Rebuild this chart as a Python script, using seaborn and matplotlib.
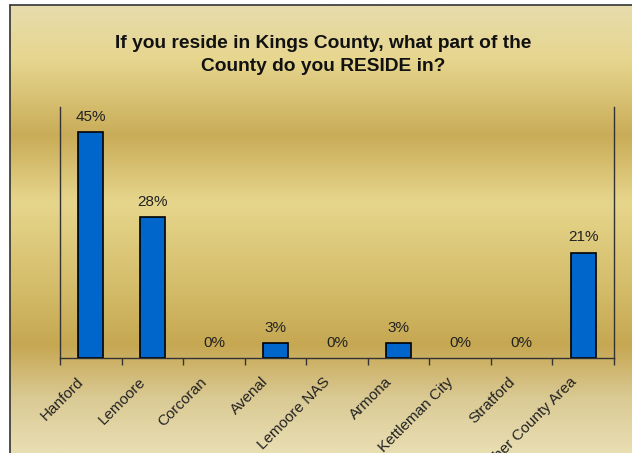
import numpy as np
import pandas as pd
import matplotlib.pyplot as plt
import matplotlib.colors as mcolors
import matplotlib.transforms as mtransforms
import seaborn as sns

# dados
categorias = ['Hanford', 'Lemoore', 'Corcoran', 'Avenal', 'Lemoore NAS',
              'Armona', 'Kettleman City', 'Stratford', 'Other County Area']
percentuais = [45, 28, 0, 3, 0, 3, 0, 0, 21]
titulo = 'If you reside in Kings County, what part of the\nCounty do you RESIDE in?'

df = pd.DataFrame({'area': categorias, 'pct': percentuais})

sns.set_theme(style='white')
plt.rcParams['font.family'] = ['Liberation Sans', 'DejaVu Sans']

fig = plt.figure(figsize=(6.32, 4.53), dpi=100)

# fundo dourado em degradê (bandas horizontais)
fundo = fig.add_axes([10 / 632, 0, 1 - 10 / 632, 448 / 453])
stops = [(0.00, '#E7DCAC'), (0.12, '#E6D68E'), (0.29, '#C9AC58'), (0.44, '#E6D68C'),
         (0.64, '#D3BB68'), (0.76, '#C6A752'), (0.88, '#DACA94'), (1.00, '#E9DEB2')]
cmap = mcolors.LinearSegmentedColormap.from_list('ouro', stops)
grad = np.linspace(0, 1, 400).reshape(-1, 1)
fundo.imshow(grad, aspect='auto', cmap=cmap, extent=[0, 1, 0, 1], origin='upper')
fundo.set_axis_off()
fig.add_artist(plt.Line2D([10 / 632, 10 / 632], [0, 448 / 453], color='#333333', lw=1.2))
fig.add_artist(plt.Line2D([10 / 632, 1], [448 / 453, 448 / 453], color='#333333', lw=1.2))

ax = fig.add_axes([60 / 632, 95 / 453, 554 / 632, 251 / 453])
ax.patch.set_alpha(0)
sns.barplot(data=df, x='area', y='pct', color='#0066CC', edgecolor='black',
            linewidth=1.2, width=0.4, saturation=1, ax=ax)

# barras de 0% não aparecem
for barra in ax.patches:
    if barra.get_height() == 0:
        barra.set_linewidth(0)

ax.set_ylim(0, 50)
ax.set_xlim(-0.5, len(categorias) - 0.5)
ax.set_xlabel('')
ax.set_ylabel('')
ax.set_yticks([])

for cont in ax.containers:
    ax.bar_label(cont, labels=[f'{v}%' for v in percentuais], padding=6,
                 fontsize=11, color='#222222')

ax.set_xticks(range(len(categorias)))
ax.set_xticklabels(categorias, rotation=45, ha='right', rotation_mode='anchor',
                   fontsize=11, color='#222222')
ax.tick_params(axis='x', which='major', length=0, pad=12)
desloc = mtransforms.ScaledTranslation(-14 / 100, 0, fig.dpi_scale_trans)
for rotulo in ax.get_xticklabels():
    rotulo.set_transform(rotulo.get_transform() + desloc)
ax.set_xticks(np.arange(-0.5, len(categorias)), minor=True)
ax.tick_params(axis='x', which='minor', bottom=True, length=5, width=1, color='#333333',
               direction='out')

for lado in ['left', 'right', 'bottom']:
    ax.spines[lado].set_visible(True)
    ax.spines[lado].set_color('#333333')
    ax.spines[lado].set_linewidth(1)
ax.spines['top'].set_visible(False)

fig.text(323 / 632, 1 - 55 / 453, titulo, ha='center', va='center', fontsize=13.8,
         fontweight='bold', linespacing=1.45, color='#111111')

fig.savefig('out.png', dpi=100)
